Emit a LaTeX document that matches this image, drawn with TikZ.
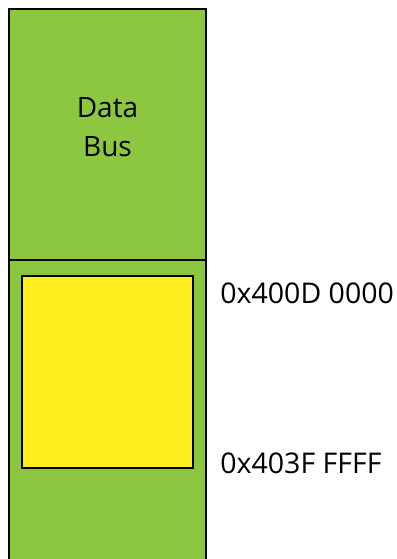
\documentclass[tikz,border=0pt]{standalone}
\usepackage{fontspec}
\setmainfont{Open Sans}
\usepackage{tikz}
\usetikzlibrary{positioning}
\definecolor{busgreen}{HTML}{8DC63F}
\definecolor{memyellow}{HTML}{FFED1F}

\begin{document}
\begin{tikzpicture}[x=1pt, y=-1pt, line width=2.8pt]
  \tikzset{
    bus/.style={draw=black, fill=busgreen, minimum width=197pt, minimum height=251pt, inner sep=0pt},
    busname/.style={align=center, font=\fontsize{28}{39}\selectfont, inner sep=0pt},
    region/.style={draw=black, fill=memyellow, minimum width=171pt, minimum height=192pt, inner sep=0pt},
    addr/.style={anchor=west, font=\fontsize{28.5}{32}\selectfont, inner sep=0pt}
  }
  \useasboundingbox (0,0) rectangle (396,559);
  % lower part of the column, open at the bottom
  \fill[busgreen] (9,260) rectangle (206,570);
  \draw (9,570) -- (9,260) (206,260) -- (206,570);
  \node[bus] (databus) at (107.5,134.5) {};
  \node[busname] (buslabel) at ([yshift=7pt]databus.center) {Data\\Bus};
  \node[region] (mem) at (107.5,372) {};
  \node[addr] (start) at (219,293) {0x400D 0000};
  \node[addr] (stop) at (219,463) {0x403F FFFF};
\end{tikzpicture}
\end{document}
